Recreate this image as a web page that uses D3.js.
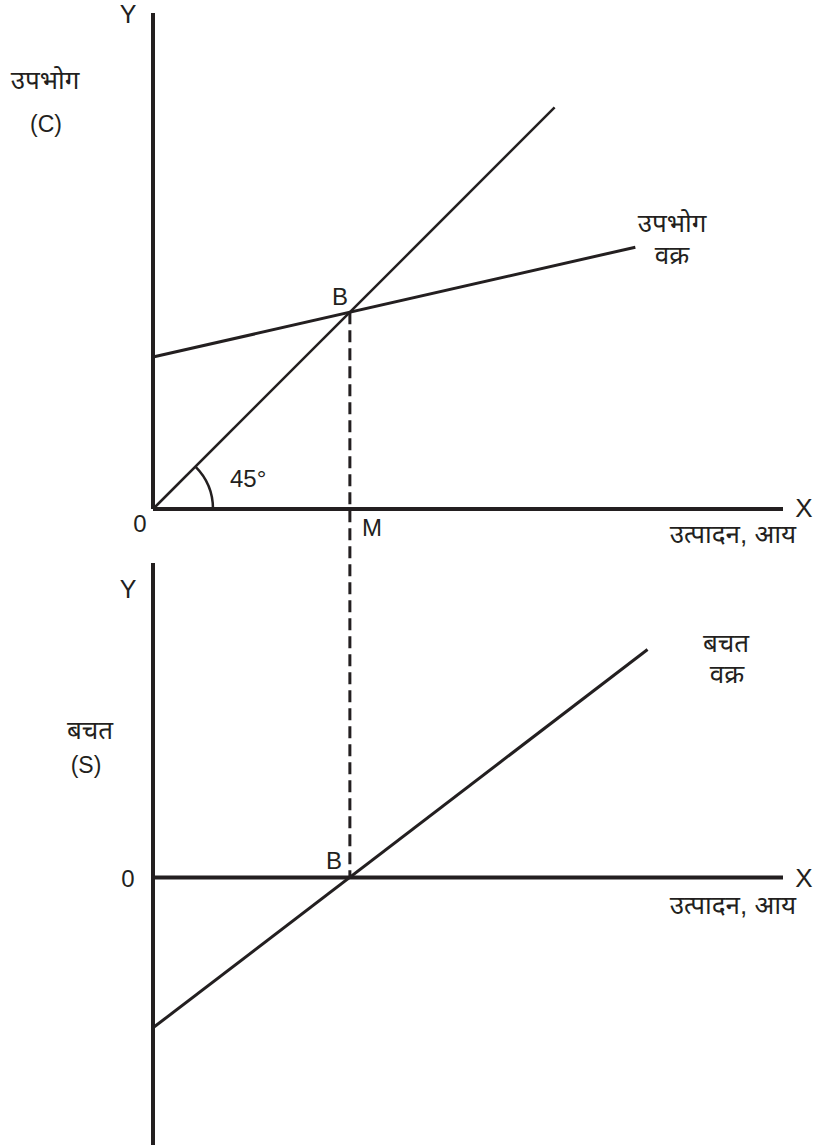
<!DOCTYPE html>
<html lang="hi">
<head>
<meta charset="utf-8">
<title>उपभोग और बचत वक्र</title>
<script src="https://d3js.org/d3.v7.min.js"></script>
<style>
  body { margin: 0; background: #fff; }
  text { font-family: "Liberation Sans", Arial, "Noto Sans", sans-serif; fill: #231f20; }
</style>
</head>
<body>
<script>
// ---- data (units of income / consumption / saving) ----
var line45      = [[0, 0], [10.2, 10.2]];          // 45 degree line
var consumption = [[0, 3.86], [12.25, 6.65]];      // C curve
var saving      = [[0, -3.82], [12.56, 5.8]];      // S curve
var pointB      = [5, 5];                          // equilibrium, Y = C
var xMax = 16, yTopMax = 12.6, yBotMax = 8, yBotMin = -6.8;

var w = 818, h = 1147;
var ink = "#231f20";

var svg = d3.select("body").append("svg")
  .attr("width", w)
  .attr("height", h);

// shared income axis
var x = d3.scaleLinear().domain([0, xMax]).range([153, 783]);
// top panel: consumption
var yTop = d3.scaleLinear().domain([0, yTopMax]).range([509, 13]);
// bottom panel: saving
var yBot = d3.scaleLinear().domain([yBotMin, yBotMax]).range([1145, 563]);

var line = function(ys) {
  return d3.line().x(function(d) { return x(d[0]); }).y(function(d) { return ys(d[1]); });
};

// axes
function axes(ys, y0, yMin, yMax) {
  svg.append("line")
    .attr("x1", x(0)).attr("x2", x(0))
    .attr("y1", ys(yMax)).attr("y2", ys(yMin))
    .attr("stroke", ink).attr("stroke-width", 4);
  svg.append("line")
    .attr("x1", x(0)).attr("x2", x(xMax))
    .attr("y1", ys(y0)).attr("y2", ys(y0))
    .attr("stroke", ink).attr("stroke-width", 4);
}
axes(yTop, 0, 0, yTopMax);
axes(yBot, 0, yBotMin, yBotMax);

// dashed drop line from B to saving axis
svg.append("line")
  .attr("x1", x(pointB[0])).attr("x2", x(pointB[0]))
  .attr("y1", yTop(pointB[1])).attr("y2", yBot(0))
  .attr("stroke", ink).attr("stroke-width", 3)
  .attr("stroke-dasharray", "12,6");

// curves
svg.append("path").datum(line45).attr("d", line(yTop))
  .attr("fill", "none").attr("stroke", ink).attr("stroke-width", 2.5);
svg.append("path").datum(consumption).attr("d", line(yTop))
  .attr("fill", "none").attr("stroke", ink).attr("stroke-width", 3);
svg.append("path").datum(saving).attr("d", line(yBot))
  .attr("fill", "none").attr("stroke", ink).attr("stroke-width", 3);

// 45 degree angle arc
var arc = d3.arc().innerRadius(60).outerRadius(60).startAngle(Math.PI / 4).endAngle(Math.PI / 2);
svg.append("path")
  .attr("transform", "translate(" + x(0) + "," + yTop(0) + ")")
  .attr("d", arc)
  .attr("fill", "none").attr("stroke", ink).attr("stroke-width", 2.5);

// labels
function label(t, lx, ly, size, anchor) {
  svg.append("text")
    .attr("x", lx).attr("y", ly)
    .attr("font-size", size)
    .attr("text-anchor", anchor || "middle")
    .text(t);
}
var hi = 26; // Devanagari size
label("Y", 128, 23, 25);
label("उपभोग", 45, 89, hi);
label("(C)", 46, 132, 23);
label("उपभोग", 672, 232, hi);
label("वक्र", 672, 264, hi);
label("B", 340, 305, 24);
label("45°", 230, 487, 24, "start");
label("0", 140, 532, 24);
label("M", 362, 536, 24, "start");
label("X", 804, 517, 26);
label("उत्पादन, आय", 733, 543, hi);

label("Y", 128, 598, 25);
label("बचत", 90, 739, hi);
label("(S)", 86, 773, 23);
label("0", 128, 887, 24);
label("B", 334, 869, 24);
label("बचत", 726, 652, hi);
label("वक्र", 727, 683, hi);
label("X", 804, 887, 26);
label("उत्पादन, आय", 733, 914, hi);
</script>
</body>
</html>
